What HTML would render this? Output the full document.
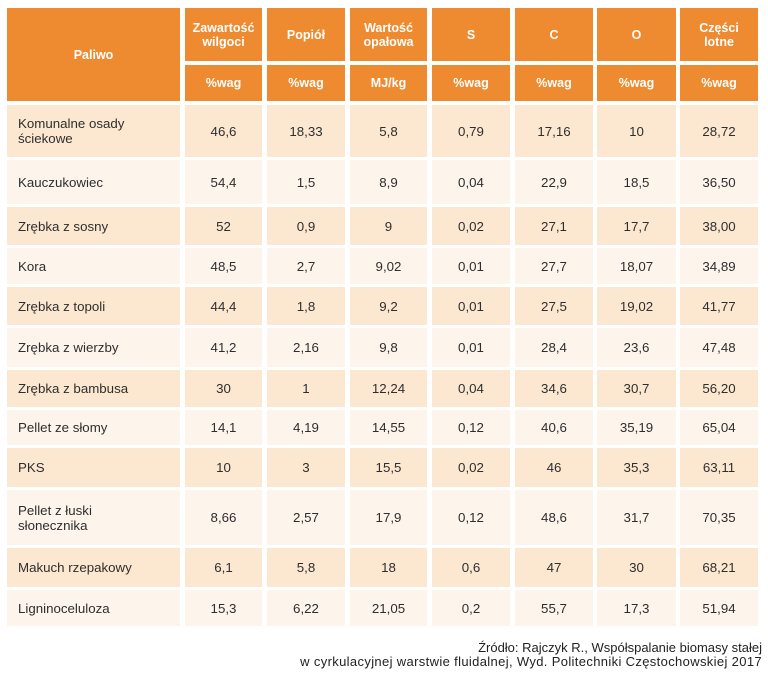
<!DOCTYPE html>
<html><head><meta charset="utf-8"><style>
html,body{margin:0;padding:0;background:#fff;}
body{width:768px;height:675px;position:relative;overflow:hidden;font-family:"Liberation Sans",sans-serif;}
.c{position:absolute;display:flex;align-items:center;justify-content:center;text-align:center;box-sizing:border-box;}
.h{background:#ee8a2f;color:#fff;font-weight:bold;font-size:12.5px;line-height:14px;}
.d{background:#fce8d0;}
.l{background:#fdf4ec;}
.b{color:#2e2e2e;font-size:13.3px;line-height:15px;}
.n{justify-content:flex-start;text-align:left;padding-left:11px;}
.src{position:absolute;right:6px;top:641px;text-align:right;font-size:13px;line-height:14px;color:#222;}
</style></head><body>
<!-- header -->
<div class="c h" style="left:7px;top:8px;width:173px;height:93px;">Paliwo</div>
<div class="c h" style="left:185px;top:8px;width:77px;height:53px;">Zawartość<br>wilgoci</div>
<div class="c h" style="left:267px;top:8px;width:78px;height:53px;">Popiół</div>
<div class="c h" style="left:350px;top:8px;width:77px;height:53px;">Wartość<br>opałowa</div>
<div class="c h" style="left:432px;top:8px;width:78px;height:53px;">S</div>
<div class="c h" style="left:515px;top:8px;width:78px;height:53px;">C</div>
<div class="c h" style="left:597px;top:8px;width:79px;height:53px;">O</div>
<div class="c h" style="left:680px;top:8px;width:78px;height:53px;">Części<br>lotne</div>
<div class="c h" style="left:185px;top:65px;width:77px;height:36px;">%wag</div>
<div class="c h" style="left:267px;top:65px;width:78px;height:36px;">%wag</div>
<div class="c h" style="left:350px;top:65px;width:77px;height:36px;">MJ/kg</div>
<div class="c h" style="left:432px;top:65px;width:78px;height:36px;">%wag</div>
<div class="c h" style="left:515px;top:65px;width:78px;height:36px;">%wag</div>
<div class="c h" style="left:597px;top:65px;width:79px;height:36px;">%wag</div>
<div class="c h" style="left:680px;top:65px;width:78px;height:36px;">%wag</div>

<div id="rows"></div>
<script>
var rows=[
[105,52,"Komunalne osady<br>ściekowe","46,6","18,33","5,8","0,79","17,16","10","28,72"],
[160,44,"Kauczukowiec","54,4","1,5","8,9","0,04","22,9","18,5","36,50"],
[207,38,"Zrębka z sosny","52","0,9","9","0,02","27,1","17,7","38,00"],
[248,36,"Kora","48,5","2,7","9,02","0,01","27,7","18,07","34,89"],
[287,38,"Zrębka z topoli","44,4","1,8","9,2","0,01","27,5","19,02","41,77"],
[328,39,"Zrębka z wierzby","41,2","2,16","9,8","0,01","28,4","23,6","47,48"],
[370,37,"Zrębka z bambusa","30","1","12,24","0,04","34,6","30,7","56,20"],
[410,35,"Pellet ze słomy","14,1","4,19","14,55","0,12","40,6","35,19","65,04"],
[448,39,"PKS","10","3","15,5","0,02","46","35,3","63,11"],
[490,55,"Pellet z łuski<br>słonecznika","8,66","2,57","17,9","0,12","48,6","31,7","70,35"],
[548,39,"Makuch rzepakowy","6,1","5,8","18","0,6","47","30","68,21"],
[590,36,"Ligninoceluloza","15,3","6,22","21,05","0,2","55,7","17,3","51,94"]
];
var cols=[[7,173],[185,77],[267,78],[350,77],[432,78],[515,78],[597,79],[680,78]];
var html="";
rows.forEach(function(r,i){
  var cls=(i%2==0)?"d":"l";
  for(var j=0;j<8;j++){
    html+='<div class="c b '+cls+(j==0?' n':'')+'" style="left:'+cols[j][0]+'px;top:'+r[0]+'px;width:'+cols[j][1]+'px;height:'+r[1]+'px;">'+r[2+j]+'</div>';
  }
});
document.getElementById("rows").innerHTML=html;
</script>
<div class="src">Źródło: Rajczyk R., Współspalanie biomasy stałej<br><span style="letter-spacing:0.35px">w cyrkulacyjnej warstwie fluidalnej, Wyd. Politechniki Częstochowskiej 2017</span></div>
</body></html>
